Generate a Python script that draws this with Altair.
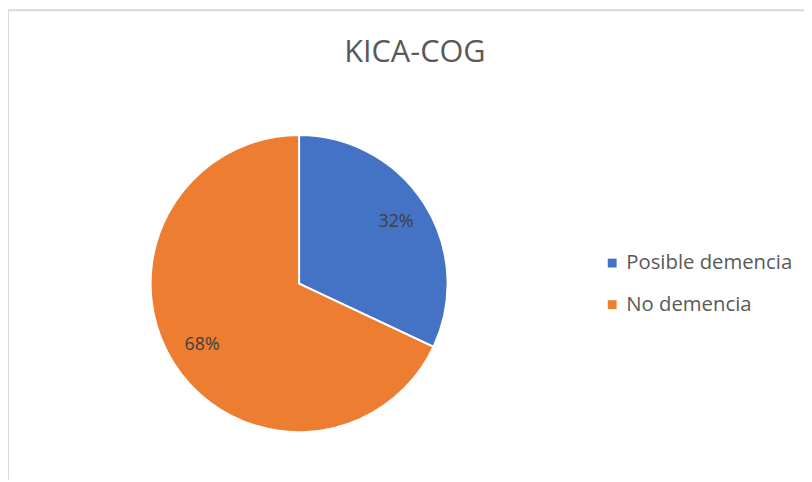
import altair as alt
import pandas as pd

categories = ["Posible demencia", "No demencia"]
values = [32, 68]
labels = ["32%", "68%"]
order = [1, 2]
colors = ["#4472C4", "#ED7D31"]

df = pd.DataFrame({"cat": categories, "val": values, "lab": labels, "ord": order})

W, H = 804, 474
CX, CY = 294, 276

base = alt.Chart(df).encode(
    theta=alt.Theta("val:Q", stack=True),
    order=alt.Order("ord:Q"),
)

pie = base.mark_arc(radius=150, x=CX, y=CY, stroke="white", strokeWidth=2).encode(
    color=alt.Color(
        "cat:N",
        scale=alt.Scale(domain=categories, range=colors),
        sort=categories,
        legend=alt.Legend(
            title=None,
            orient="none",
            legendX=600,
            legendY=245,
            symbolType="square",
            symbolSize=80,
            symbolStrokeWidth=0,
            labelFontSize=20.5,
            labelFont="Open Sans",
            labelColor="#595959",
            labelLimit=400,
            rowPadding=21,
            padding=0,
            labelOffset=4,
        ),
    )
)

txt = base.mark_text(radius=116, x=CX, y=CY, fontSize=18, font="Open Sans", color="#404040").encode(
    text="lab:N"
)

border = alt.Chart(alt.Data(values=[{"a": 1}])).mark_rule(color="#d9d9d9", strokeWidth=2).encode(
    x=alt.value(0), y=alt.value(0), y2=alt.value(H)
)
border_top = alt.Chart(alt.Data(values=[{"a": 1}])).mark_rule(color="#d9d9d9", strokeWidth=2).encode(
    x=alt.value(0), x2=alt.value(W), y=alt.value(0)
)

chart = alt.layer(border, border_top, pie, txt).properties(
    width=W,
    height=H,
    padding=0,
    autosize=alt.AutoSizeParams(type="none"),
    title=alt.TitleParams(
        "KICA-COG",
        anchor="middle",
        fontSize=31,
        font="Open Sans",
        fontWeight="normal",
        color="#595959",
        dy=64,
        dx=9,
    ),
).configure_view(stroke=None)

chart.save("out.html", embed_options={"renderer": "svg", "actions": False})
